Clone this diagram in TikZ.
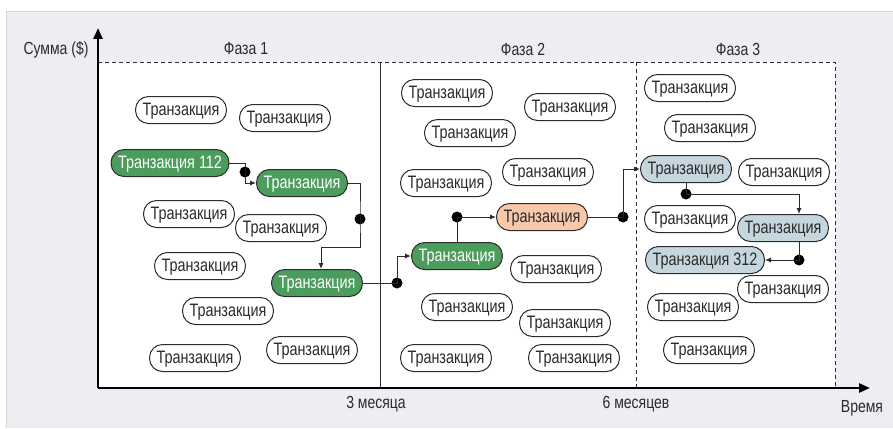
\documentclass[tikz,border=0pt]{standalone}
\usepackage{fontspec}
\setmainfont{Liberation Sans}[FakeStretch=0.8]
\usetikzlibrary{arrows.meta}

\definecolor{panelgrey}{HTML}{EEEEF2}
\definecolor{panelline}{HTML}{D4D4D8}
\definecolor{txgreen}{HTML}{4C9C5E}
\definecolor{txsalmon}{HTML}{F8C8AA}
\definecolor{txblue}{HTML}{C6D6DE}
\definecolor{inkgrey}{HTML}{2B2B2B}

\tikzset{
	tx/.style={draw=inkgrey, line width=1pt, fill=white, rounded corners=13pt, minimum height=27pt, inner xsep=7pt, inner ysep=0pt, text height=13pt, text depth=3pt, text=inkgrey, font=\fontsize{18}{18}\selectfont},
	txg/.style={tx, fill=txgreen, text=white},
	txs/.style={tx, fill=txsalmon},
	txb/.style={tx, fill=txblue},
	link/.style={draw=inkgrey, line width=1pt, -{Latex[length=6pt,width=5pt]}},
	dot/.style={circle, fill=black, inner sep=0pt, minimum size=11pt},
	lbl/.style={text=inkgrey, font=\fontsize{17.5}{17.5}\selectfont},
	axis/.style={black, line width=2.5pt, -{Triangle[length=11pt,width=9pt]}},
	phaseline/.style={inkgrey, line width=1pt, dashed, dash pattern=on 4pt off 3pt},
}

\begin{document}
\begin{tikzpicture}[x=1pt,y=-1pt]
						\useasboundingbox (0,0) rectangle (893,428);
						\fill[panelgrey] (6,12) rectangle (893,428);
						\draw[panelline, line width=1pt] (6,428) -- (6,12) -- (893,12);
						\fill[white] (98,62) rectangle (835,388);
						
						% phases
						\draw[inkgrey, line width=1pt] (380,62) -- (380,388);
						\draw[phaseline] (98,62) -- (835,62) -- (835,388);
						\draw[phaseline] (636,62) -- (636,388);
						
						\coordinate (O) at (98,388);
						\coordinate (ytip) at (98,28);
						\coordinate (xtip) at (870,388);
						\draw[axis] (O) -- (ytip);
						\draw[axis] (O) -- (xtip);
						
						\node[lbl] (ylab) at (56,50) {Сумма (\$)};
						\node[lbl] (ph1) at (246,49) {Фаза 1};
						\node[lbl] (ph2) at (523,49) {Фаза 2};
						\node[lbl] (ph3) at (738,49) {Фаза 3};
						\node[lbl] (t3) at (376,404) {3 месяца};
						\node[lbl] (t6) at (636,404) {6 месяцев};
						\node[lbl] (xlab) at (862,408) {Время};
						
						% phase 1
						\node[tx] (a1) at (181,110) {Транзакция};
						\node[tx] (a2) at (285,118) {Транзакция};
						\node[txg] (g1) at (170,163) {Транзакция 112};
						\node[txg] (g2) at (302,183) {Транзакция};
						\node[tx] (a3) at (189,214) {Транзакция};
						\node[tx] (a4) at (281,228) {Транзакция};
						\node[tx] (a5) at (200,266) {Транзакция};
						\node[txg] (g3) at (317,283) {Транзакция};
						\node[tx] (a6) at (228,311) {Транзакция};
						\node[tx] (a7) at (195,358) {Транзакция};
						\node[tx] (a8) at (312,350) {Транзакция};
						
						% phase 2
						\node[tx] (m1) at (447,93) {Транзакция};
						\node[tx] (m2) at (570,107) {Транзакция};
						\node[tx] (m3) at (470,133) {Транзакция};
						\node[tx] (m4) at (548,172) {Транзакция};
						\node[tx] (m5) at (446,183) {Транзакция};
						\node[txs] (s1) at (542,217) {Транзакция};
						\node[txg] (g4) at (457,256) {Транзакция};
						\node[tx] (m6) at (556,269) {Транзакция};
						\node[tx] (m7) at (467,307) {Транзакция};
						\node[tx] (m8) at (565,323) {Транзакция};
						\node[tx] (m9) at (446,358) {Транзакция};
						\node[tx] (m10) at (574,358) {Транзакция};
						
						% phase 3
						\node[tx] (n1) at (690,88) {Транзакция};
						\node[tx] (n2) at (710,128) {Транзакция};
						\node[txb] (b1) at (686,169) {Транзакция};
						\node[tx] (n3) at (784,172) {Транзакция};
						\node[tx] (n4) at (690,219) {Транзакция};
						\node[txb] (b2) at (783,228) {Транзакция};
						\node[txb] (b3) at (705,260) {Транзакция 312};
						\node[tx] (n5) at (783,289) {Транзакция};
						\node[tx] (n6) at (693,307) {Транзакция};
						\node[tx] (n7) at (709,350) {Транзакция};
						
						\node[dot] (d1) at (245,172) {};
						\node[dot] (d2) at (360,219) {};
						\node[dot] (d3) at (397,283) {};
						\node[dot] (d4) at (457,217) {};
						\node[dot] (d5) at (623,217) {};
						\node[dot] (d6) at (686,194) {};
						\node[dot] (d7) at (799,260) {};
						\coordinate (k2) at (321,247);
						\coordinate (k6) at (799,194);
						
						\draw[link] (g1.east) -| (d1.center) |- (g2.west);
						\draw[link] (g2.east) -| (d2.center) |- (k2) -- (k2 |- g3.north);
						\draw[link] (g3.east) -- (d3.center) |- (g4.west);
						\draw[link] (g4.north) -- (d4.center) -- (s1.west);
						\draw[link] (s1.east) -- (d5.center) |- (b1.west);
						\draw[link] (b1.south) -- (d6.center) -- (k6) -- (k6 |- b2.north);
						\draw[link] (k6 |- b2.south) -- (d7.center) -- (b3.east);
						
						%\node at (636,420) {};
						\end{tikzpicture}
\end{document}
